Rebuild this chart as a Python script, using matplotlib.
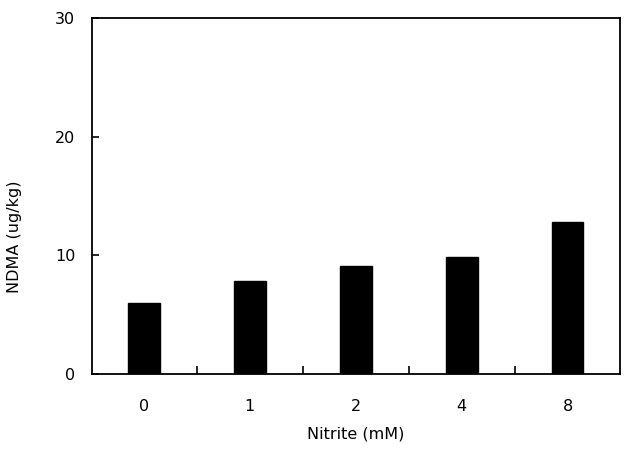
import matplotlib
matplotlib.use("Agg")
import matplotlib.pyplot as plt
import numpy as np

categories = ["0", "1", "2", "4", "8"]
ndma = [6.0, 7.8, 9.1, 9.9, 12.8]
yticks = [0, 10, 20, 30]

plt.rcParams['font.family'] = ['DejaVu Sans']

fig = plt.figure(figsize=(6.24, 4.5), dpi=100)
ax = fig.add_axes([92/624, 76/450, 528/624, 356/450])

x = np.arange(len(categories))
ax.bar(x, ndma, width=0.30, color='black', edgecolor='black')

ax.set_xlim(-0.49, len(categories) - 0.505)
ax.set_ylim(0, 30)

ax.set_xticks(x)
ax.set_xticklabels(categories, fontsize=11.5)
ax.tick_params(axis='x', which='major', length=0, pad=18)
ax.set_xticks(x[:-1] + 0.5, minor=True)
ax.tick_params(axis='x', which='minor', direction='in', length=6, width=1.2)

ax.set_yticks(yticks)
ax.set_yticklabels([str(v) for v in yticks], fontsize=11.5)
ax.tick_params(axis='y', direction='in', length=5, width=1.2, pad=12)

for s in ax.spines.values():
    s.set_linewidth(1.3)

ax.set_xlabel("Nitrite (mM)", fontsize=11.5)
ax.xaxis.set_label_coords(0.5, -0.148)
ax.set_ylabel("NDMA (ug/kg)", fontsize=11.5)
ax.yaxis.set_label_coords(-0.1335, 0.385)

fig.savefig("out.png", dpi=100)
